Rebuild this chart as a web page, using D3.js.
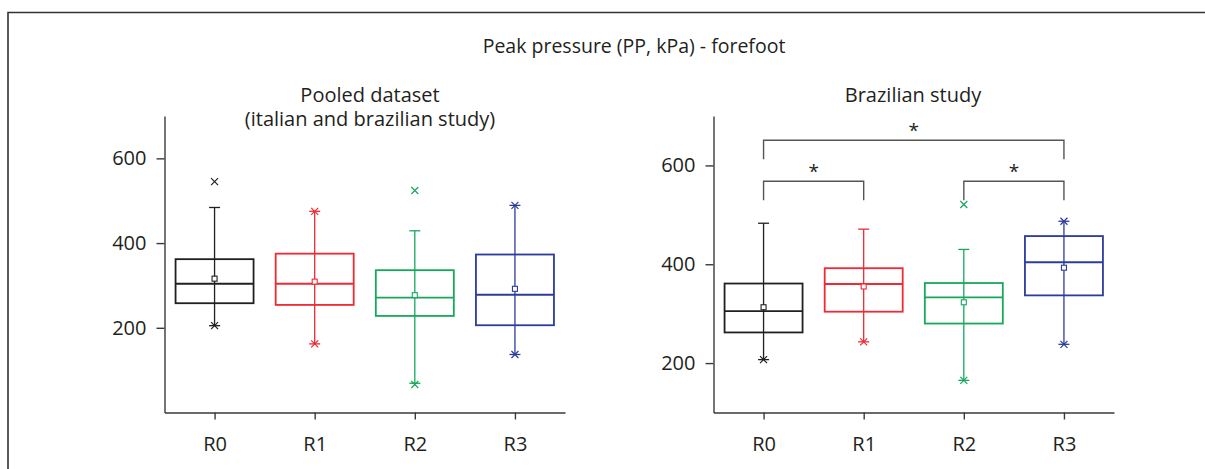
<!DOCTYPE html>
<html>
<head>
<meta charset="utf-8">
<script src="https://cdn.jsdelivr.net/npm/d3@7"></script>
<style>
  body { margin: 0; background: #fff; }
  text { font-family: "Open Sans", sans-serif; fill: #231f20; }
</style>
</head>
<body>
<div class="container"></div>
<script>
// categories and colours
let groups = ["R0", "R1", "R2", "R3"];
let colors = ["#231f20", "#ee2a32", "#17a85c", "#2c3c9c"];

// pooled dataset (italian and brazilian study)
let pooledQ1 = [258, 254, 228, 206];
let pooledMedian = [304, 304, 271, 278];
let pooledQ3 = [362, 375, 336, 373];
let pooledMean = [316, 309, 277, 292];
let pooledWhiskerLow = [205, 162, 69, 137];
let pooledWhiskerHigh = [484, 475, 429, 489];
let pooledCrossLow = [205, 162, 66, 137];
let pooledCrossHigh = [545, 475, 524, 489];

// brazilian study
let brazilQ1 = [262, 304, 280, 337];
let brazilMedian = [305, 360, 333, 404];
let brazilQ3 = [361, 392, 362, 457];
let brazilMean = [313, 355, 323, 393];
let brazilWhiskerLow = [207, 243, 165, 238];
let brazilWhiskerHigh = [483, 471, 430, 487];
let brazilCrossLow = [207, 243, 165, 238];
let brazilCrossHigh = [null, null, 521, 487];

// significance brackets (brazilian study): from, to, height in kPa
let sigFrom = ["R0", "R2", "R0"];
let sigTo = ["R1", "R3", "R3"];
let sigLevel = [568, 568, 651];

let yTicks = [200, 400, 600];

let svg = d3.select(".container")
  .append("svg")
  .attr("width", 1205)
  .attr("height", 469);

// outer frame
svg.append("path")
  .attr("d", "M8,480 L8,12.5 L1210,12.5")
  .attr("fill", "none")
  .attr("stroke", "#333")
  .attr("stroke-width", 1.6);

svg.append("text")
  .attr("x", 634)
  .attr("y", 53)
  .attr("text-anchor", "middle")
  .style("font-size", "19.5px")
  .text("Peak pressure (PP, kPa) - forefoot");

let makeRows = (q1, med, q3, mean, wl, wh, xl, xh) =>
  groups.map((g, i) => ({
    group: g, color: colors[i],
    q1: q1[i], median: med[i], q3: q3[i], mean: mean[i],
    wl: wl[i], wh: wh[i], xl: xl[i], xh: xh[i]
  }));

let drawPanel = (opts) => {
  let x = d3.scalePoint().domain(groups).range([opts.left, opts.left + 400.5]).padding(0.5);
  let y = d3.scaleLinear().domain(opts.domain).range([412.5, 116]);
  let g = svg.append("g");

  let yAxis = g.append("g")
    .attr("transform", `translate(${opts.left},0)`)
    .call(d3.axisLeft(y).tickValues(yTicks).tickSize(8).tickSizeOuter(0).tickPadding(10));
  let xAxis = g.append("g")
    .attr("transform", "translate(0,412.5)")
    .call(d3.axisBottom(x).tickSize(7).tickSizeOuter(0).tickPadding(14));
  [yAxis, xAxis].forEach((a) => {
    a.select(".domain").attr("stroke", "#3a3a3a").attr("stroke-width", 1.4);
    a.selectAll(".tick line").attr("stroke", "#3a3a3a").attr("stroke-width", 1.4);
    a.selectAll("text")
      .style("font-size", "20px")
      .style("font-family", "'Open Sans', sans-serif")
      .attr("fill", "#231f20");
  });
  xAxis.selectAll("text").attr("dy", "0.85em");

  opts.titles.forEach((t, i) => {
    g.append("text")
      .attr("x", opts.titleX)
      .attr("y", 102 + i * 24)
      .attr("text-anchor", "middle")
      .style("font-size", "20px")
      .text(t);
  });

  let half = 39;
  let boxes = g.selectAll(".box").data(opts.rows).enter().append("g")
    .attr("stroke", (d) => d.color)
    .attr("fill", "none");

  // whisker
  boxes.append("line")
    .attr("x1", (d) => x(d.group)).attr("x2", (d) => x(d.group))
    .attr("y1", (d) => y(d.wl)).attr("y2", (d) => y(d.wh))
    .attr("stroke-width", 1.3);
  // caps
  ["wl", "wh"].forEach((k) => {
    boxes.append("line")
      .attr("x1", (d) => x(d.group) - 5.5).attr("x2", (d) => x(d.group) + 5.5)
      .attr("y1", (d) => y(d[k])).attr("y2", (d) => y(d[k]))
      .attr("stroke-width", 1.3);
  });
  // box
  boxes.append("rect")
    .attr("x", (d) => x(d.group) - half)
    .attr("width", half * 2)
    .attr("y", (d) => y(d.q3))
    .attr("height", (d) => y(d.q1) - y(d.q3))
    .attr("stroke-width", 1.8);
  boxes.append("line")
    .attr("x1", (d) => x(d.group) - half).attr("x2", (d) => x(d.group) + half)
    .attr("y1", (d) => y(d.median)).attr("y2", (d) => y(d.median))
    .attr("stroke-width", 1.8);
  // mean
  boxes.append("rect")
    .attr("x", (d) => x(d.group) - 2.5)
    .attr("y", (d) => y(d.mean) - 2.5)
    .attr("width", 5).attr("height", 5)
    .attr("fill", "#fff")
    .attr("stroke-width", 1.1);
  // crosses
  ["xl", "xh"].forEach((k) => {
    boxes.filter((d) => d[k] != null).append("path")
      .attr("d", (d) => {
        let cx = x(d.group), cy = y(d[k]), s = 3.5;
        return `M${cx - s},${cy - s}L${cx + s},${cy + s}M${cx - s},${cy + s}L${cx + s},${cy - s}`;
      })
      .attr("stroke-width", 1.2);
  });

  // significance brackets
  (opts.sig || []).forEach((s) => {
    let x1 = x(s.from), x2 = x(s.to), yy = y(s.level);
    g.append("path")
      .attr("d", `M${x1},${yy + 19}V${yy}H${x2}V${yy + 19}`)
      .attr("fill", "none")
      .attr("stroke", "#555")
      .attr("stroke-width", 1.4);
    g.append("text")
      .attr("x", (x1 + x2) / 2)
      .attr("y", yy - 3.5)
      .attr("text-anchor", "middle")
      .style("font-size", "19px")
      .text("*");
  });
};

drawPanel({
  left: 164.5,
  domain: [0, 700],
  titleX: 370,
  titles: ["Pooled dataset", "(italian and brazilian study)"],
  rows: makeRows(pooledQ1, pooledMedian, pooledQ3, pooledMean,
    pooledWhiskerLow, pooledWhiskerHigh, pooledCrossLow, pooledCrossHigh)
});

drawPanel({
  left: 713.5,
  domain: [100, 700],
  titleX: 913,
  titles: ["Brazilian study"],
  rows: makeRows(brazilQ1, brazilMedian, brazilQ3, brazilMean,
    brazilWhiskerLow, brazilWhiskerHigh, brazilCrossLow, brazilCrossHigh),
  sig: sigFrom.map((f, i) => ({ from: f, to: sigTo[i], level: sigLevel[i] }))
});
</script>
</body>
</html>
